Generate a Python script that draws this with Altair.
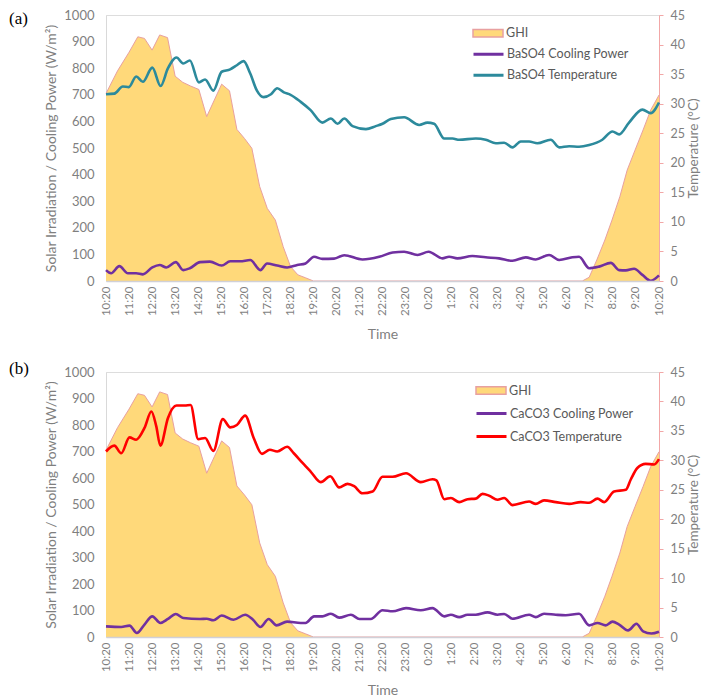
import altair as alt
import pandas as pd

# ---------------- data (hours after 10:20) ----------------
TIME_LABELS = ["10:20", "11:20", "12:20", "13:20", "14:20", "15:20", "16:20", "17:20",
               "18:20", "19:20", "20:20", "21:20", "22:20", "23:20", "0:20", "1:20",
               "2:20", "3:20", "4:20", "5:20", "6:20", "7:20", "8:20", "9:20", "10:20"]

GHI_T = [0, 0.5, 1.0, 1.38, 1.67, 2.0, 2.33, 2.67, 3.0, 3.33, 3.67, 4.03, 4.37, 4.7, 5.02,
         5.36, 5.68, 6.01, 6.33, 6.67, 7.0, 7.35, 7.69, 8.01, 8.33, 8.66, 9.0, 20.67, 20.97,
         21.3, 21.65, 21.96, 22.3, 22.62, 22.96, 23.31, 23.64, 24.0]
GHI_V = [705, 790, 860, 918, 912, 868, 925, 915, 770, 747, 733, 720, 618, 680, 740,
         715, 570, 536, 499, 355, 273, 229, 129, 54, 23, 12, 0, 0, 14,
         79, 154, 229, 317, 417, 492, 568, 643, 699]

BA_COOL_T = [0, 0.22, 0.58, 0.95, 1.31, 1.6, 2.01, 2.33, 2.62, 3.03, 3.35, 3.64, 4.08, 4.51,
             5.02, 5.39, 5.82, 6.26, 6.7, 6.99, 7.43, 7.86, 8.3, 8.66, 9.03, 9.39, 9.9,
             10.34, 11.13, 11.86, 12.44, 12.94, 13.52, 14.0, 14.6, 14.89, 15.25, 15.9,
             16.48, 17.06, 17.64, 18.22, 18.65, 19.23, 19.67, 20.24, 20.53, 20.97, 21.4,
             21.91, 22.27, 22.56, 22.92, 23.28, 23.64, 24.0]
BA_COOL_V = [41, 29, 56, 29, 29, 25, 51, 60, 51, 71, 41, 48, 71, 73,
             58, 74, 74, 79, 41, 66, 58, 51, 60, 66, 91, 83, 84,
             97, 81, 91, 107, 110, 98, 110, 85, 91, 85, 94,
             89, 85, 76, 89, 81, 98, 79, 89, 91, 48, 54,
             68, 41, 40, 46, 23, 1, 21]

BA_TEMP_T = [0, 0.36, 0.73, 0.99, 1.31, 1.6, 2.01, 2.37, 2.69, 3.06, 3.35, 3.64, 4.03, 4.3,
             4.66, 5.02, 5.39, 5.68, 5.97, 6.26, 6.55, 6.84, 7.16, 7.43, 7.72, 8.01, 8.45,
             8.88, 9.39, 9.76, 10.05, 10.34, 10.7, 11.28, 11.71, 12.0, 12.36, 12.94, 13.59,
             13.95, 14.24, 14.68, 15.04, 15.33, 16.05, 16.48, 16.92, 17.28, 17.64, 18.0,
             18.36, 18.72, 19.3, 19.67, 20.1, 20.53, 20.97, 21.54, 21.98, 22.27, 22.7,
             23.28, 23.64, 24.0]
BA_TEMP_V = [31.6, 31.7, 32.9, 32.8, 34.6, 33.7, 36.1, 33.0, 36.0, 37.8, 36.8, 37.3, 33.6, 34.1,
             32.2, 35.4, 35.8, 36.5, 37.2, 35.1, 32.2, 31.1, 31.6, 32.6, 31.9, 31.5, 30.3,
             28.9, 26.8, 27.5, 26.6, 27.5, 26.2, 25.7, 26.2, 26.6, 27.4, 27.7, 26.4,
             26.8, 26.6, 24.1, 24.1, 23.9, 24.1, 23.9, 23.3, 23.4, 22.6, 23.6,
             23.6, 23.3, 23.9, 22.6, 22.8, 22.7, 23.0, 23.9, 25.3, 24.8, 26.8,
             29.0, 28.4, 30.2]

CA_COOL_T = [0, 0.66, 1.02, 1.34, 1.67, 2.01, 2.36, 2.69, 3.03, 3.35, 4.08, 4.37, 4.66, 5.02,
             5.53, 6.04, 6.38, 6.7, 7.06, 7.4, 7.86, 8.45, 8.66, 9.03, 9.39, 9.76, 10.12,
             10.63, 11.0, 11.49, 12.0, 12.44, 13.02, 13.66, 14.17, 14.68, 14.97, 15.33,
             15.69, 16.05, 16.56, 16.99, 17.28, 17.64, 18.36, 18.65, 19.01, 19.52, 19.95,
             20.53, 20.97, 21.33, 21.69, 21.98, 22.27, 22.66, 23.02, 23.31, 23.67, 24.0]
CA_COOL_V = [40, 38, 43, 15, 47, 78, 53, 68, 87, 72, 68, 69, 63, 81,
             65, 84, 65, 38, 68, 44, 58, 53, 53, 78, 78, 88, 73,
             84, 68, 68, 101, 97, 109, 101, 109, 78, 84, 75,
             84, 84, 93, 84, 87, 69, 84, 75, 88, 84, 82,
             88, 44, 53, 44, 58, 47, 25, 50, 21, 13, 20]

CA_TEMP_T = [0, 0.36, 0.66, 1.02, 1.31, 1.67, 1.97, 2.18, 2.36, 2.69, 3.06, 3.42, 3.67, 4.0,
             4.3, 4.66, 5.07, 5.39, 5.68, 6.04, 6.41, 6.77, 7.11, 7.43, 7.86, 8.15, 8.52,
             8.88, 9.32, 9.73, 10.12, 10.48, 10.77, 11.13, 11.57, 12.0, 12.44, 13.02, 13.66,
             14.17, 14.34, 14.68, 14.97, 15.33, 15.69, 16.05, 16.34, 16.63, 16.99, 17.28,
             17.64, 18.36, 18.65, 19.01, 19.52, 20.1, 20.6, 20.97, 21.33, 21.62, 22.05,
             22.56, 22.77, 23.06, 23.42, 23.79, 24.0]
CA_TEMP_V = [31.5, 32.5, 31.2, 33.9, 33.5, 35.5, 38.3, 35.8, 32.5, 37.2, 39.3, 39.3, 39.4, 33.6,
             33.8, 31.6, 37.0, 35.6, 36.0, 37.6, 33.8, 31.1, 31.8, 31.5, 32.3, 31.2, 29.6,
             28.1, 26.3, 27.3, 25.4, 26.0, 25.6, 24.4, 24.7, 27.2, 27.2, 27.8, 26.3,
             26.8, 26.6, 23.4, 23.6, 22.9, 23.4, 23.5, 24.3, 24.0, 23.3, 23.6,
             22.4, 23.0, 22.6, 23.2, 22.9, 22.6, 22.9, 22.8, 23.5, 22.9, 24.7,
             25.0, 26.7, 28.7, 29.4, 29.3, 30.2]

# ---------------- style ----------------
FONT = "Lato"
GRAY = "#7F7F7F"
GHI_FILL = "#FFD97A"
GHI_EDGE = "#E8A0A0"
PURPLE = "#7030A0"
W = 553
LABEL_EXPR = "[" + ",".join("'%s'" % s for s in TIME_LABELS) + "][datum.value]"


def panel(tag, tag_y, cool_name, temp_name, temp_color, cool_t, cool_v, temp_t, temp_v,
          lx, ly_fill, ly_stroke, row_h, height):
    ghi = pd.DataFrame({"h": GHI_T, "v": GHI_V, "series": "GHI"})
    cool = pd.DataFrame({"h": cool_t, "v": cool_v, "series": cool_name})
    temp = pd.DataFrame({"h": temp_t, "t": temp_v, "series": temp_name})

    x_scale = alt.Scale(domain=[0, 24], nice=False, zero=False)
    x_axis = alt.Axis(values=list(range(25)), labelExpr=LABEL_EXPR, labelAngle=270,
                      labelOverlap=False, title="Time", ticks=False, labelPadding=5,
                      labelFontSize=11.5, labelColor=GRAY, titleColor=GRAY,
                      titleFontSize=14, titleFontWeight="normal", titlePadding=12,
                      domainColor="#D0D0D8", domainWidth=1.5, grid=False, zindex=1)
    x = alt.X("h:Q", scale=x_scale, axis=x_axis)
    yl_scale = alt.Scale(domain=[0, 1000], nice=False)
    yl_axis = alt.Axis(values=list(range(0, 1001, 100)), format="d", labelOverlap=False,
                       title="Solar Irradiation / Cooling Power (W/m²)",
                       ticks=False, labelPadding=12, labelFontSize=13, labelColor=GRAY,
                       titleColor=GRAY, titleFontSize=14, titleFontWeight="normal",
                       titlePadding=5, domainColor="#D9D9D9", grid=False)
    yl = alt.Y("v:Q", scale=yl_scale, axis=yl_axis)

    stroke_scale = alt.Scale(domain=[cool_name, temp_name], range=[PURPLE, temp_color])
    stroke_legend = alt.Legend(orient="none", legendX=lx, legendY=ly_stroke, title=None,
                               symbolType="stroke", symbolSize=900, symbolStrokeWidth=3,
                               clipHeight=row_h, rowPadding=0, padding=0, labelFont=FONT,
                               labelFontSize=12.5, labelColor="#595959", labelOffset=2)

    area = alt.Chart(ghi).mark_area(interpolate="linear", opacity=1).encode(
        x=x, y=yl,
        fill=alt.Fill("series:N", scale=alt.Scale(domain=["GHI"], range=[GHI_FILL]),
                      legend=alt.Legend(orient="none", legendX=lx, legendY=ly_fill, title=None,
                                        symbolType="M-1,-0.25H1V0.25H-1Z", symbolSize=900,
                                        symbolStrokeColor=GHI_EDGE, symbolStrokeWidth=1.5,
                                        clipHeight=row_h, padding=0, labelFont=FONT,
                                        labelFontSize=12.5, labelColor="#595959", labelOffset=2)),
    )
    edge = alt.Chart(ghi).mark_line(color=GHI_EDGE, strokeWidth=1).encode(x=x, y=yl)
    cool_line = alt.Chart(cool).mark_line(interpolate="monotone", strokeWidth=2.6).encode(
        x=x, y=yl,
        stroke=alt.Stroke("series:N", scale=stroke_scale, legend=stroke_legend))
    left = alt.layer(area, edge, cool_line)

    right = alt.Chart(temp).mark_line(interpolate="monotone", strokeWidth=2.6).encode(
        x=x,
        y=alt.Y("t:Q", scale=alt.Scale(domain=[0, 45], nice=False),
                axis=alt.Axis(orient="right", values=list(range(0, 46, 5)), labelOverlap=False,
                              title="Temperature (°C)", titleAngle=270, titleBaseline="top",
                              titleColor=GRAY, titleFontSize=13.5, titleFontWeight="normal",
                              titlePadding=2, labelColor=GRAY, labelFontSize=12.5,
                              labelPadding=7, tickSize=4, tickColor="#F2A7A7",
                              domainColor="#F2A7A7", grid=False)),
        stroke=alt.Stroke("series:N", scale=stroke_scale, legend=stroke_legend))

    tag_df = pd.DataFrame({"label": [tag]})
    tag_text = alt.Chart(tag_df).mark_text(align="left", baseline="alphabetic",
                                           font="Liberation Serif", fontSize=17,
                                           color="#000000").encode(
        x=alt.value(-97), y=alt.value(tag_y), text="label:N")

    return alt.layer(left, right, tag_text).resolve_scale(y="independent").properties(
        width=W, height=height)


top = panel("(a)", 9, "BaSO4 Cooling Power", "BaSO4 Temperature", "#2C8A9C",
            BA_COOL_T, BA_COOL_V, BA_TEMP_T, BA_TEMP_V, 366, 8, 29, 20.6, 266)
bottom = panel("(b)", 2, "CaCO3 Cooling Power", "CaCO3 Temperature", "#FF0000",
               CA_COOL_T, CA_COOL_V, CA_TEMP_T, CA_TEMP_V, 369, 7, 30, 23, 265)

chart = alt.vconcat(top, bottom, spacing=16).resolve_scale(
    stroke="independent", fill="independent"
).resolve_legend(stroke="independent", fill="independent").configure_view(stroke=None).configure(
    font=FONT, padding={"left": 0, "top": 0, "right": 0, "bottom": 0}
).configure_axis(labelFont=FONT, titleFont=FONT)

chart.save("out.html", embed_options={"renderer": "svg", "actions": False})
